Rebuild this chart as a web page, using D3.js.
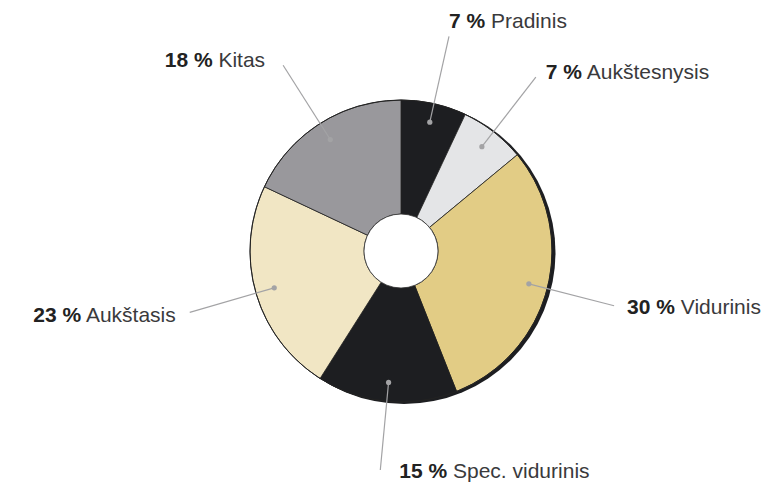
<!DOCTYPE html>
<html>
<head>
<meta charset="utf-8">
<script src="https://cdn.jsdelivr.net/npm/d3@7"></script>
<style>
  body { margin: 0; background: #fff; }
  svg { display: block; }
</style>
</head>
<body>
<svg id="chart"></svg>
<script>
// data, clockwise from 12 o'clock
const categories = ['Pradinis', 'Aukštesnysis', 'Vidurinis', 'Spec. vidurinis', 'Aukštasis', 'Kitas'];
const shares = [7, 7, 30, 15, 23, 18];
const sliceColors = ['#1d1e21', '#e4e5e7', '#e2cc85', '#1d1e21', '#f1e6c4', '#99989c'];

// label nudges relative to leader line end [dx, dy]
const labelNudge = [[0, -8], [10, 2], [13, 8], [19, 8], [-14, 10], [-18, 2]];

const width = 780;
const height = 483;
const cx = 401, cy = 251;
const outerR = 151, innerR = 37;
const dotR = 132, lineR = 220;

const svg = d3.select('#chart')
    .attr('width', width)
    .attr('height', height);

const g = svg.append('g').attr('transform', `translate(${cx},${cy})`);

const pie = d3.pie().sort(null).value(d => d.value);
const arcs = pie(categories.map((c, i) => ({ name: c, value: shares[i], color: sliceColors[i], i })));

const arc = d3.arc().innerRadius(innerR).outerRadius(outerR);

// drop shadow behind the ring
g.append('circle')
    .attr('cx', 3).attr('cy', 1.5)
    .attr('r', outerR + 0.5)
    .attr('fill', '#1d1e21');

g.append('g')
    .selectAll('path')
    .data(arcs)
    .enter().append('path')
    .attr('d', arc)
    .attr('fill', d => d.data.color)
    .attr('stroke', '#222')
    .attr('stroke-width', 0.8)
    .attr('stroke-linejoin', 'round');

// outline
g.append('circle').attr('r', outerR).attr('fill', 'none').attr('stroke', '#222').attr('stroke-width', 1);
g.append('circle').attr('r', innerR).attr('fill', '#fff').attr('stroke', '#333').attr('stroke-width', 0.8);

const midAngle = d => (d.startAngle + d.endAngle) / 2;
const polar = (a, r) => [r * Math.sin(a), -r * Math.cos(a)];

// leader lines
const leaders = g.append('g');
leaders.selectAll('line')
    .data(arcs)
    .enter().append('line')
    .attr('x1', d => polar(midAngle(d), dotR)[0])
    .attr('y1', d => polar(midAngle(d), dotR)[1])
    .attr('x2', d => polar(midAngle(d), lineR)[0])
    .attr('y2', d => polar(midAngle(d), lineR)[1])
    .attr('stroke', '#a3a3a5')
    .attr('stroke-width', 1.2);

leaders.selectAll('circle')
    .data(arcs)
    .enter().append('circle')
    .attr('cx', d => polar(midAngle(d), dotR)[0])
    .attr('cy', d => polar(midAngle(d), dotR)[1])
    .attr('r', 2.6)
    .attr('fill', '#a3a3a5');

// labels
const label = g.append('g')
    .selectAll('text')
    .data(arcs)
    .enter().append('text')
    .attr('x', d => polar(midAngle(d), lineR)[0] + labelNudge[d.data.i][0])
    .attr('y', d => polar(midAngle(d), lineR)[1] + labelNudge[d.data.i][1])
    .attr('text-anchor', d => Math.sin(midAngle(d)) >= -0.2 ? 'start' : 'end')
    .style('font-family', '"Liberation Sans", Arial, Helvetica, sans-serif')
    .style('font-size', '21px');

label.append('tspan')
    .attr('font-weight', 'bold')
    .attr('fill', '#222')
    .text(d => `${d.data.value} %`);

label.append('tspan')
    .attr('fill', '#3a3a3c')
    .text(d => ` ${d.data.name}`);
</script>
</body>
</html>
